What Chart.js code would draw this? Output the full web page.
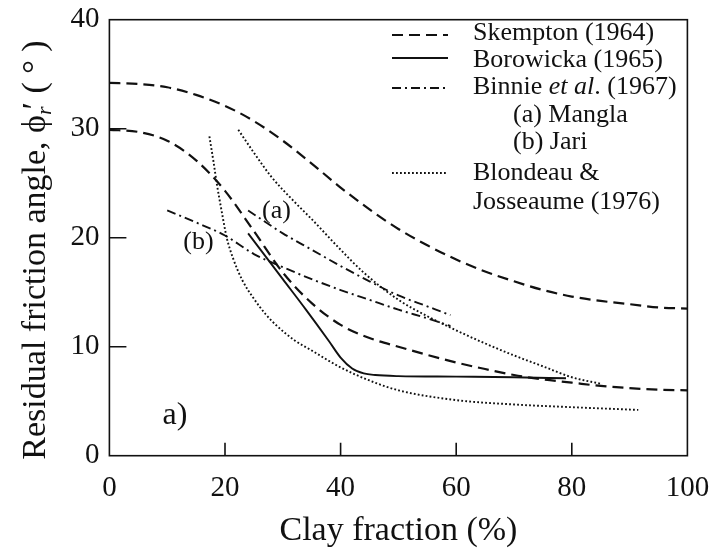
<!DOCTYPE html>
<html><head><meta charset="utf-8">
<script src="https://cdn.jsdelivr.net/npm/chart.js@4.4.0/dist/chart.umd.min.js"></script>
<style>html,body{margin:0;padding:0;background:#fff;}</style>
</head><body>
<canvas id="c" width="709" height="551"></canvas>
<script>
// ---- tick labels ----
const xTicks = [0, 20, 40, 60, 80, 100];
const yTicks = [0, 10, 20, 30, 40];

// ---- Skempton (1964): upper and lower bounds ----
const skemptonUpperX = [0, 5, 10, 15, 20, 25, 30, 35, 40, 45, 50, 55, 60, 65, 70, 75, 80, 85, 90, 95, 100];
const skemptonUpperY = [34.2, 34.1, 33.8, 33.1, 32.1, 30.7, 28.9, 26.8, 24.6, 22.6, 20.8, 19.3, 18.0, 16.9, 16.0, 15.2, 14.6, 14.2, 13.9, 13.6, 13.5];
const skemptonLowerX = [0, 5, 10, 15, 20, 25, 30, 35, 40, 45, 50, 55, 60, 65, 70, 75, 80, 85, 90, 95, 100];
const skemptonLowerY = [29.9, 29.7, 28.9, 27.1, 24.3, 20.6, 16.8, 14.0, 12.0, 10.8, 10.0, 9.25, 8.55, 7.95, 7.4, 7.0, 6.7, 6.4, 6.2, 6.05, 6.0];

// ---- Borowicka (1965) ----
const borowickaX = [24, 26, 30, 34, 38, 40, 42, 44, 46, 50, 60, 70, 79];
const borowickaY = [20.4, 19.0, 16.2, 13.4, 10.5, 9.0, 8.0, 7.55, 7.4, 7.3, 7.25, 7.2, 7.1];

// ---- Binnie et al. (1967): (a) Mangla, (b) Jari ----
const manglaX = [24, 30, 35, 40, 45, 50, 55, 59];
const manglaY = [22.5, 20.4, 18.9, 17.4, 16.0, 14.7, 13.7, 12.9];
const jariX = [10, 15, 20, 25, 30, 35, 40, 45, 50, 55, 59];
const jariY = [22.5, 21.4, 20.2, 18.5, 17.3, 16.2, 15.2, 14.3, 13.4, 12.6, 11.9];

// ---- Blondeau & Josseaume (1976): lower and upper bounds ----
const blondeauLowerX = [17.3, 18.0, 18.6, 19.5, 20.3, 21.4, 23, 25, 27, 29, 32, 35, 40, 45, 50, 60, 70, 80, 91.5];
const blondeauLowerY = [29.3, 27.0, 24.9, 22.2, 20.0, 18.1, 16.1, 14.4, 13.0, 11.9, 10.6, 9.65, 8.1, 6.9, 6.0, 5.1, 4.7, 4.45, 4.2];
const blondeauUpperX = [22.3, 25, 28, 32, 35, 40, 44, 50, 55, 60, 65, 70, 75, 80, 85];
const blondeauUpperY = [29.9, 27.8, 25.6, 23.3, 21.7, 18.9, 16.8, 14.3, 12.8, 11.5, 10.3, 9.2, 8.2, 7.2, 6.6];

// ---- labels ----
const legendEntries = ['Skempton (1964)', 'Borowicka (1965)', 'Binnie et al. (1967)', '(a) Mangla', '(b) Jari', 'Blondeau &', 'Josseaume (1976)'];
const xTitle = 'Clay fraction (%)';
const yTitle = 'Residual friction angle, ';

const INK = '#111111';
const SERIF = '"Liberation Serif", "DejaVu Serif", serif';
const DASH = [11, 6], DASHDOT = [9, 4, 2, 4], DOT = [1.8, 2.2];

function pts(xs, ys) { return xs.map((x, i) => ({ x: x, y: ys[i] })); }
function ds(label, xs, ys, dash, w) {
  return { label, data: pts(xs, ys), showLine: true, borderColor: INK, borderWidth: w,
    borderDash: dash, pointRadius: 0, cubicInterpolationMode: 'monotone', fill: false };
}

const overlay = {
  id: 'overlay',
  afterDraw(chart) {
    const ctx = chart.ctx, a = chart.chartArea, xs = chart.scales.x, ys = chart.scales.y;
    ctx.save();
    // frame
    ctx.strokeStyle = INK; ctx.lineWidth = 1.6; ctx.setLineDash([]);
    ctx.strokeRect(a.left, a.top, a.right - a.left, a.bottom - a.top);
    // inward ticks
    ctx.beginPath();
    xTicks.slice(1, -1).forEach(v => { const p = xs.getPixelForValue(v); ctx.moveTo(p, a.bottom); ctx.lineTo(p, a.bottom - 13); });
    yTicks.slice(1, -1).forEach(v => { const p = ys.getPixelForValue(v); ctx.moveTo(a.left, p); ctx.lineTo(a.left + 17, p); });
    ctx.stroke();

    // curve labels
    ctx.fillStyle = INK; ctx.textAlign = 'center'; ctx.textBaseline = 'middle';
    ctx.font = '26px ' + SERIF;
    ctx.fillText('(a)', xs.getPixelForValue(28.9), ys.getPixelForValue(22.4));
    ctx.fillText('(b)', xs.getPixelForValue(15.4), ys.getPixelForValue(19.6));
    ctx.font = '32px ' + SERIF;
    ctx.fillText('a)', xs.getPixelForValue(11.35), ys.getPixelForValue(3.7));

    // legend
    const lx0 = 392, lx1 = 448, tx = 473, tx2 = 513;
    const rows = [33, 60, 87, 115, 142, 173, 202];
    const samples = [[35, DASH, 2.2], [58, [], 1.9], [88, DASHDOT, 1.9], [173, DOT, 1.9]];
    samples.forEach(s => {
      ctx.beginPath(); ctx.setLineDash(s[1]); ctx.lineWidth = s[2];
      ctx.moveTo(lx0, s[0]); ctx.lineTo(lx1, s[0]); ctx.stroke();
    });
    ctx.setLineDash([]);
    ctx.textAlign = 'left';
    ctx.font = '26px ' + SERIF;
    ctx.fillText(legendEntries[0], tx, rows[0]);
    ctx.fillText(legendEntries[1], tx, rows[1]);
    // Binnie et al. with italic "et al"
    let x = tx;
    const p1 = 'Binnie ', p2 = 'et al', p3 = '. (1967)';
    ctx.fillText(p1, x, rows[2]); x += ctx.measureText(p1).width;
    ctx.font = 'italic 26px ' + SERIF; ctx.fillText(p2, x, rows[2]); x += ctx.measureText(p2).width;
    ctx.font = '26px ' + SERIF; ctx.fillText(p3, x, rows[2]);
    ctx.fillText(legendEntries[3], tx2, rows[3]);
    ctx.fillText(legendEntries[4], tx2, rows[4]);
    ctx.fillText(legendEntries[5], tx, rows[5]);
    ctx.fillText(legendEntries[6], tx, rows[6]);

    // y title (rotated) with subscript r
    ctx.translate(34, 248.5); ctx.rotate(-Math.PI / 2);
    const f = '34px ' + SERIF, fs = 'italic 22px ' + SERIF;
    const partA = yTitle + '\u03D5', partSub = 'r', partB = '\u2032 ( \u00B0 )';
    ctx.font = f; const wA = ctx.measureText(partA).width, wB = ctx.measureText(partB).width;
    ctx.font = fs; const wS = ctx.measureText(partSub).width;
    let tx0 = -(wA + wS + wB) / 2;
    ctx.textBaseline = 'alphabetic';
    ctx.font = f; ctx.fillText(partA, tx0, 11); tx0 += wA;
    ctx.font = fs; ctx.fillText(partSub, tx0, 17); tx0 += wS;
    ctx.font = f; ctx.fillText(partB, tx0 - 3, 11);
    ctx.restore();
  }
};

new Chart(document.getElementById('c'), {
  type: 'scatter',
  data: {
    datasets: [
      ds('Skempton (1964) upper', skemptonUpperX, skemptonUpperY, DASH, 2.2),
      ds('Skempton (1964) lower', skemptonLowerX, skemptonLowerY, DASH, 2.2),
      ds('Borowicka (1965)', borowickaX, borowickaY, [], 1.9),
      ds('Binnie et al. (1967) (a) Mangla', manglaX, manglaY, DASHDOT, 1.9),
      ds('Binnie et al. (1967) (b) Jari', jariX, jariY, DASHDOT, 1.9),
      ds('Blondeau & Josseaume (1976) lower', blondeauLowerX, blondeauLowerY, DOT, 1.9),
      ds('Blondeau & Josseaume (1976) upper', blondeauUpperX, blondeauUpperY, DOT, 1.9)
    ]
  },
  options: {
    responsive: false, animation: false, devicePixelRatio: 1,
    layout: { padding: { top: 19.7, right: 21.6, left: 0, bottom: 0 } },
    plugins: { legend: { display: false }, tooltip: { enabled: false } },
    scales: {
      x: {
        type: 'linear', min: 0, max: 100,
        afterBuildTicks: sc => { sc.ticks = xTicks.map(v => ({ value: v })); },
        afterFit: sc => { sc.height = 95.3; sc.paddingLeft = 0; sc.paddingRight = 0; },
        ticks: { font: { family: SERIF, size: 29 }, color: INK, padding: 15, maxRotation: 0, autoSkip: false },
        grid: { display: false, drawTicks: false },
        border: { display: false },
        title: { display: true, text: xTitle, font: { family: SERIF, size: 34 }, color: INK, padding: { top: 0, bottom: 0 } }
      },
      y: {
        type: 'linear', min: 0, max: 40,
        afterBuildTicks: sc => { sc.ticks = yTicks.map(v => ({ value: v })); },
        afterFit: sc => { sc.width = 109.4; sc.paddingTop = 0; sc.paddingBottom = 0; },
        ticks: { font: { family: SERIF, size: 29 }, color: INK, padding: 10 },
        grid: { display: false, drawTicks: false },
        border: { display: false }
      }
    }
  },
  plugins: [overlay]
});
</script>
</body></html>
